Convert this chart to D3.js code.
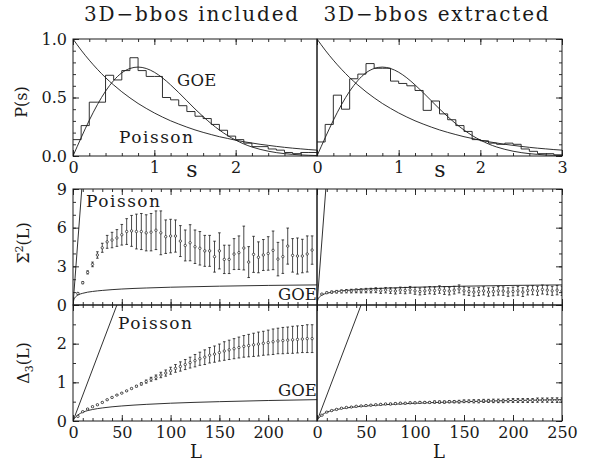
<!DOCTYPE html>
<html>
<head>
<meta charset="utf-8">
<script src="https://cdn.jsdelivr.net/npm/d3@7"></script>
<style>
body { margin: 0; background: #fff; }
svg text { font-family: "DejaVu Serif", serif; fill: #1a1a1a; }
</style>
</head>
<body>
<svg id="chart" width="590" height="464"></svg>
<script>
// ---- data ----
const titles = ["3D\u2212bbos included", "3D\u2212bbos extracted"];

// nearest-neighbour spacing grid (bin edges and curve samples)
const sGrid = [0,0.1,0.2,0.3,0.4,0.5,0.6,0.7,0.8,0.9,1.0,1.1,1.2,1.3,1.4,1.5,1.6,1.7,1.8,1.9,2.0,
               2.1,2.2,2.3,2.4,2.5,2.6,2.7,2.8,2.9,3.0];
const poissonPs = [1,0.905,0.819,0.741,0.670,0.607,0.549,0.497,0.449,0.407,0.368,0.333,0.301,0.273,0.247,
                   0.223,0.202,0.183,0.165,0.150,0.135,0.122,0.111,0.100,0.091,0.082,0.074,0.067,0.061,0.055,0.050];
const goePs = [0,0.156,0.305,0.439,0.554,0.645,0.711,0.748,0.760,0.748,0.716,0.668,0.608,0.542,0.472,
               0.402,0.337,0.276,0.222,0.175,0.136,0.103,0.077,0.057,0.041,0.029,0.020,0.014,0.009,0.006,0.004];
const histIncluded = [0.14,0.26,0.46,0.46,0.69,0.65,0.73,0.84,0.73,0.68,0.68,0.50,0.48,0.43,0.38,
                      0.34,0.32,0.27,0.22,0.17,0.14,0.11,0.08,0.08,0.06,0.05,0.03,0.02,0.03,0.03];
const histExtracted = [0.12,0.27,0.52,0.40,0.66,0.70,0.79,0.75,0.75,0.64,0.62,0.60,0.56,0.39,0.47,
                       0.36,0.31,0.26,0.21,0.14,0.13,0.11,0.10,0.11,0.10,0.06,0.04,0.02,0.02,0.01];

// interval lengths L of the data points
const lGrid = [5,10,15,20,25,30,35,40,45,50,55,60,65,70,75,80,85,90,95,100,105,110,115,120,125,
               130,135,140,145,150,155,160,165,170,175,180,185,190,195,200,205,210,215,220,225,
               230,235,240,245,250];

// Sigma^2(L)
const sigmaIncluded = [0.9,1.73,2.53,3.15,3.88,4.44,4.9,5.04,5.2,5.45,5.7,5.75,5.7,5.7,5.6,5.65,5.8,5.6,
                       5.3,5.35,5.35,4.96,4.62,4.83,4.52,4.4,4.2,4.2,3.75,4.2,3.54,3.54,3.95,4.06,4.42,
                       3.33,3.93,3.7,3.88,4.0,4.24,3.56,3.75,4.57,3.85,3.8,3.8,3.96,4.26];
const sigmaIncludedErr = [0.05,0.08,0.12,0.18,0.25,0.35,0.5,0.6,0.65,0.8,1.0,1.2,1.35,1.4,1.4,1.45,1.5,1.7,
                          1.3,1.3,1.25,1.2,1.2,1.4,1.3,1.3,1.2,1.2,1.2,1.4,1.1,1.1,1.2,1.3,1.7,
                          1.2,1.4,1.2,1.2,1.3,1.5,1.3,1.3,1.4,1.3,1.4,1.3,1.4,1.1];
const sigmaExtracted = [0.85,0.95,1.0,1.03,1.05,1.07,1.08,1.1,1.1,1.12,1.12,1.15,1.1,1.15,1.12,1.08,1.15,
                        1.12,1.18,1.1,1.05,1.1,1.15,1.12,1.2,1.12,1.08,1.15,1.25,1.1,1.05,1.0,1.05,1.1,
                        1.0,1.05,1.1,1.08,1.0,1.05,1.1,1.0,1.12,1.15,1.1,1.2,1.15,1.1,1.15,1.1];
const sigmaExtractedErr = [0.04,0.06,0.08,0.1,0.12,0.13,0.14,0.15,0.16,0.17,0.18,0.19,0.2,0.21,0.22,0.23,
                           0.24,0.25,0.26,0.27,0.27,0.28,0.28,0.29,0.29,0.3,0.3,0.3,0.31,0.31,0.31,0.32,
                           0.32,0.32,0.32,0.33,0.33,0.33,0.33,0.34,0.34,0.34,0.34,0.35,0.35,0.35,0.35,0.35,0.36,0.36];

// Delta_3(L)
const deltaIncluded = [0.12,0.24,0.31,0.37,0.42,0.48,0.55,0.61,0.67,0.72,0.78,0.84,0.90,0.96,1.02,1.08,
                       1.13,1.19,1.24,1.30,1.36,1.41,1.46,1.51,1.56,1.61,1.65,1.70,1.73,1.77,1.81,1.84,
                       1.87,1.90,1.93,1.95,1.97,1.99,2.01,2.03,2.05,2.07,2.08,2.09,2.10,2.11,2.12,2.13,2.13];
const deltaIncludedErr = [0.01,0.01,0.01,0.01,0.01,0.01,0.01,0.01,0.01,0.01,0.01,0.01,0.02,0.03,0.04,0.05,
                          0.06,0.07,0.08,0.09,0.1,0.12,0.13,0.14,0.16,0.17,0.19,0.2,0.21,0.22,0.24,0.25,
                          0.26,0.27,0.28,0.29,0.3,0.31,0.31,0.32,0.33,0.33,0.34,0.34,0.35,0.35,0.35,0.36,0.36];
const deltaExtracted = [0.15,0.23,0.27,0.30,0.33,0.35,0.36,0.38,0.39,0.40,0.41,0.42,0.43,0.44,0.44,0.45,
                        0.46,0.46,0.47,0.47,0.48,0.48,0.48,0.49,0.49,0.49,0.50,0.50,0.50,0.51,0.51,0.51,
                        0.51,0.52,0.52,0.52,0.52,0.52,0.53,0.53,0.53,0.53,0.53,0.53,0.54,0.54,0.54,0.54,0.54,0.54];
const deltaExtractedErr = [0.01,0.01,0.01,0.01,0.01,0.01,0.01,0.01,0.01,0.01,0.015,0.015,0.015,0.015,0.02,
                           0.02,0.02,0.02,0.02,0.02,0.025,0.025,0.025,0.03,0.03,0.03,0.03,0.03,0.035,0.035,
                           0.035,0.04,0.04,0.04,0.04,0.045,0.045,0.045,0.045,0.05,0.05,0.05,0.05,0.05,0.055,
                           0.055,0.055,0.06,0.06,0.06];

// theory curves in the L panels
const goeSigmaL = [0.3,1,2,3,5,10,20,30,50,75,100,150,200,250];
const goeSigma  = [0.22,0.44,0.58,0.66,0.77,0.91,1.05,1.13,1.24,1.32,1.38,1.46,1.52,1.56];
const goeDeltaL = [0,1,2,3,5,10,20,30,50,75,100,150,200,250];
const goeDelta  = [0,0.05,0.08,0.11,0.156,0.226,0.297,0.338,0.389,0.43,0.46,0.50,0.53,0.552];
const poissonSigmaL = [0, 9];
const poissonSigma  = [0, 9];
const poissonDeltaL = [0, 45];
const poissonDelta  = [0, 3];

// ---- layout ----
const svg = d3.select("#chart");
const cols = [{x0: 73, x1: 317}, {x0: 317, x1: 562}];
const rows = [{y0: 39, y1: 156}, {y0: 189, y1: 305}, {y0: 305, y1: 421}];
const ink = "#1a1a1a";

function range(a, b, step) {
    const out = [];
    for (let v = a; v <= b + 1e-9; v += step) out.push(+v.toFixed(3));
    return out;
}

function makePanel(ri, ci, xDomain, yDomain) {
    const c = cols[ci], r = rows[ri];
    const x = d3.scaleLinear().domain(xDomain).range([c.x0, c.x1]);
    const y = d3.scaleLinear().domain(yDomain).range([r.y1, r.y0]);
    const id = "clip" + ri + ci;
    svg.append("clipPath").attr("id", id)
        .append("rect")
        .attr("x", c.x0).attr("y", r.y0)
        .attr("width", c.x1 - c.x0).attr("height", r.y1 - r.y0);
    const g = svg.append("g").attr("clip-path", `url(#${id})`);
    return {x, y, g, c, r};
}

function axes(p, opts) {
    const {x, y, c, r} = p;
    const fmtX = opts.xFmt || (d => d);
    const fmtY = opts.yFmt || (d => d);
    const sides = [];
    // x axes: bottom and top, y axis on the outer side only
    sides.push({axis: d3.axisBottom(x), pos: `translate(0,${r.y1})`, maj: opts.xMaj, min: opts.xMin,
                labels: opts.xLabels, fmt: fmtX});
    sides.push({axis: d3.axisTop(x), pos: `translate(0,${r.y0})`, maj: opts.xMaj, min: opts.xMin});
    if (opts.left) {
        sides.push({axis: d3.axisLeft(y), pos: `translate(${c.x0},0)`, maj: opts.yMaj, min: opts.yMin,
                    labels: opts.yLabels, fmt: fmtY});
    } else {
        sides.push({axis: d3.axisRight(y), pos: `translate(${c.x1},0)`, maj: opts.yMaj, min: opts.yMin});
    }
    sides.forEach(s => {
        const labels = s.labels || [];
        const gMaj = svg.append("g").attr("transform", s.pos)
            .call(s.axis.tickValues(s.maj).tickSize(-6).tickPadding(6)
                .tickFormat(d => labels.includes(d) ? s.fmt(d) : ""));
        gMaj.attr("font-size", 16).attr("font-family", null);
        gMaj.select(".domain").remove();
        gMaj.selectAll("line").attr("stroke", ink).attr("stroke-width", 0.9);
        const gMin = svg.append("g").attr("transform", s.pos)
            .call(s.axis.tickValues(s.min).tickSize(-3).tickFormat(""));
        gMin.select(".domain").remove();
        gMin.selectAll("line").attr("stroke", ink).attr("stroke-width", 0.9);
    });
    svg.append("rect")
        .attr("x", c.x0).attr("y", r.y0)
        .attr("width", c.x1 - c.x0).attr("height", r.y1 - r.y0)
        .attr("fill", "none").attr("stroke", ink).attr("stroke-width", 1);
}

function curve(p, xs, ys, kind) {
    const line = d3.line()
        .x(d => p.x(d[0])).y(d => p.y(d[1]))
        .curve(kind || d3.curveMonotoneX);
    p.g.append("path")
        .datum(xs.map((v, i) => [v, ys[i]]))
        .attr("d", line)
        .attr("fill", "none").attr("stroke", ink).attr("stroke-width", 0.9);
}

function histogram(p, values) {
    const pts = values.map((v, i) => [sGrid[i], v]);
    pts.push([sGrid[values.length], values[values.length - 1]]);
    curve(p, pts.map(d => d[0]), pts.map(d => d[1]), d3.curveStepAfter);
}

function errorPoints(p, vals, errs) {
    const data = vals.map((v, i) => ({L: lGrid[i], v, e: errs[i]}));
    const g = p.g.append("g").attr("stroke", ink).attr("stroke-width", 0.8);
    g.selectAll(".bar").data(data).enter().append("line")
        .attr("x1", d => p.x(d.L)).attr("x2", d => p.x(d.L))
        .attr("y1", d => p.y(d.v - d.e)).attr("y2", d => p.y(d.v + d.e));
    g.selectAll(".capT").data(data).enter().append("line")
        .attr("x1", d => p.x(d.L) - 1.3).attr("x2", d => p.x(d.L) + 1.3)
        .attr("y1", d => p.y(d.v + d.e)).attr("y2", d => p.y(d.v + d.e));
    g.selectAll(".capB").data(data).enter().append("line")
        .attr("x1", d => p.x(d.L) - 1.3).attr("x2", d => p.x(d.L) + 1.3)
        .attr("y1", d => p.y(d.v - d.e)).attr("y2", d => p.y(d.v - d.e));
    g.selectAll("circle").data(data).enter().append("circle")
        .attr("cx", d => p.x(d.L)).attr("cy", d => p.y(d.v))
        .attr("r", 1.2).attr("stroke-width", 0.7).attr("fill", "#fff");
}

function label(txt, x, y, size, anchor, spacing) {
    return svg.append("text")
        .attr("x", x).attr("y", y)
        .attr("font-size", size)
        .attr("text-anchor", anchor || "start")
        .attr("letter-spacing", spacing || 0)
        .text(txt);
}

// ---- top row: P(s) ----
const sMaj = [0, 1, 2, 3];
const sMin = range(0, 3, 0.2);
[histIncluded, histExtracted].forEach((hist, ci) => {
    const p = makePanel(0, ci, [0, 3], [0, 1]);
    curve(p, sGrid, poissonPs);
    curve(p, sGrid, goePs);
    histogram(p, hist);
    axes(p, {
        left: ci === 0,
        xMaj: sMaj, xMin: sMin,
        xLabels: ci === 0 ? [0, 1, 2] : [0, 1, 2, 3],
        yMaj: [0, 0.5, 1], yMin: range(0, 1, 0.1),
        yLabels: [0, 0.5, 1], yFmt: d3.format(".1f")
    });
});

// ---- middle row: Sigma^2(L) ----
const lMaj = [0, 50, 100, 150, 200, 250];
const lMin = range(0, 250, 10);
[[sigmaIncluded, sigmaIncludedErr], [sigmaExtracted, sigmaExtractedErr]].forEach((s, ci) => {
    const p = makePanel(1, ci, [0, 250], [0, 9]);
    curve(p, poissonSigmaL, poissonSigma, d3.curveLinear);
    curve(p, goeSigmaL, goeSigma);
    errorPoints(p, s[0], s[1]);
    axes(p, {
        left: ci === 0,
        xMaj: lMaj, xMin: lMin, xLabels: [],
        yMaj: [0, 3, 6, 9], yMin: range(0, 9, 1),
        yLabels: [0, 3, 6, 9]
    });
});

// ---- bottom row: Delta_3(L) ----
[[deltaIncluded, deltaIncludedErr], [deltaExtracted, deltaExtractedErr]].forEach((s, ci) => {
    const p = makePanel(2, ci, [0, 250], [0, 3]);
    curve(p, poissonDeltaL, poissonDelta, d3.curveLinear);
    curve(p, goeDeltaL, goeDelta);
    errorPoints(p, s[0], s[1]);
    axes(p, {
        left: ci === 0,
        xMaj: lMaj, xMin: lMin,
        xLabels: ci === 0 ? [0, 50, 100, 150, 200] : lMaj,
        yMaj: [0, 1, 2, 3], yMin: range(0, 3, 0.5),
        yLabels: [0, 1, 2]
    });
});

// ---- titles and annotations ----
label(titles[0], 192, 21, 20, "middle", 1.8);
label(titles[1], 437, 21, 20, "middle", 1.8);

label("GOE", 177, 86, 16.5, "start", 0.3);
label("Poisson", 119, 143, 17, "start", 1.5);
label("Poisson", 86, 207, 17, "start", 1.5);
label("GOE", 278, 300, 16.5, "start", 0);
label("Poisson", 118, 329, 17, "start", 1.5);
label("GOE", 278, 396, 16.5, "start", 0);

label("s", 192, 177, 22, "middle");
label("s", 440, 177, 22, "middle");
label("L", 196, 458, 18, "middle");
label("L", 439, 458, 18, "middle");

function yTitle(x, y, parts) {
    const t = svg.append("text")
        .attr("transform", `translate(${x},${y}) rotate(-90)`)
        .attr("text-anchor", "middle")
        .attr("font-size", 16);
    parts.forEach(pt => {
        const ts = t.append("tspan").text(pt.t);
        if (pt.sup) ts.attr("font-size", 11).attr("dy", -6);
        if (pt.sub) ts.attr("font-size", 11).attr("dy", 4);
        if (pt.back) ts.attr("dy", pt.back);
    });
}
yTitle(27, 102, [{t: "P(s)"}]);
yTitle(29, 243, [{t: "\u03A3"}, {t: "2", sup: true}, {t: "(L)", back: 6}]);
yTitle(29, 363, [{t: "\u0394"}, {t: "3", sub: true}, {t: "(L)", back: -4}]);
</script>
</body>
</html>
